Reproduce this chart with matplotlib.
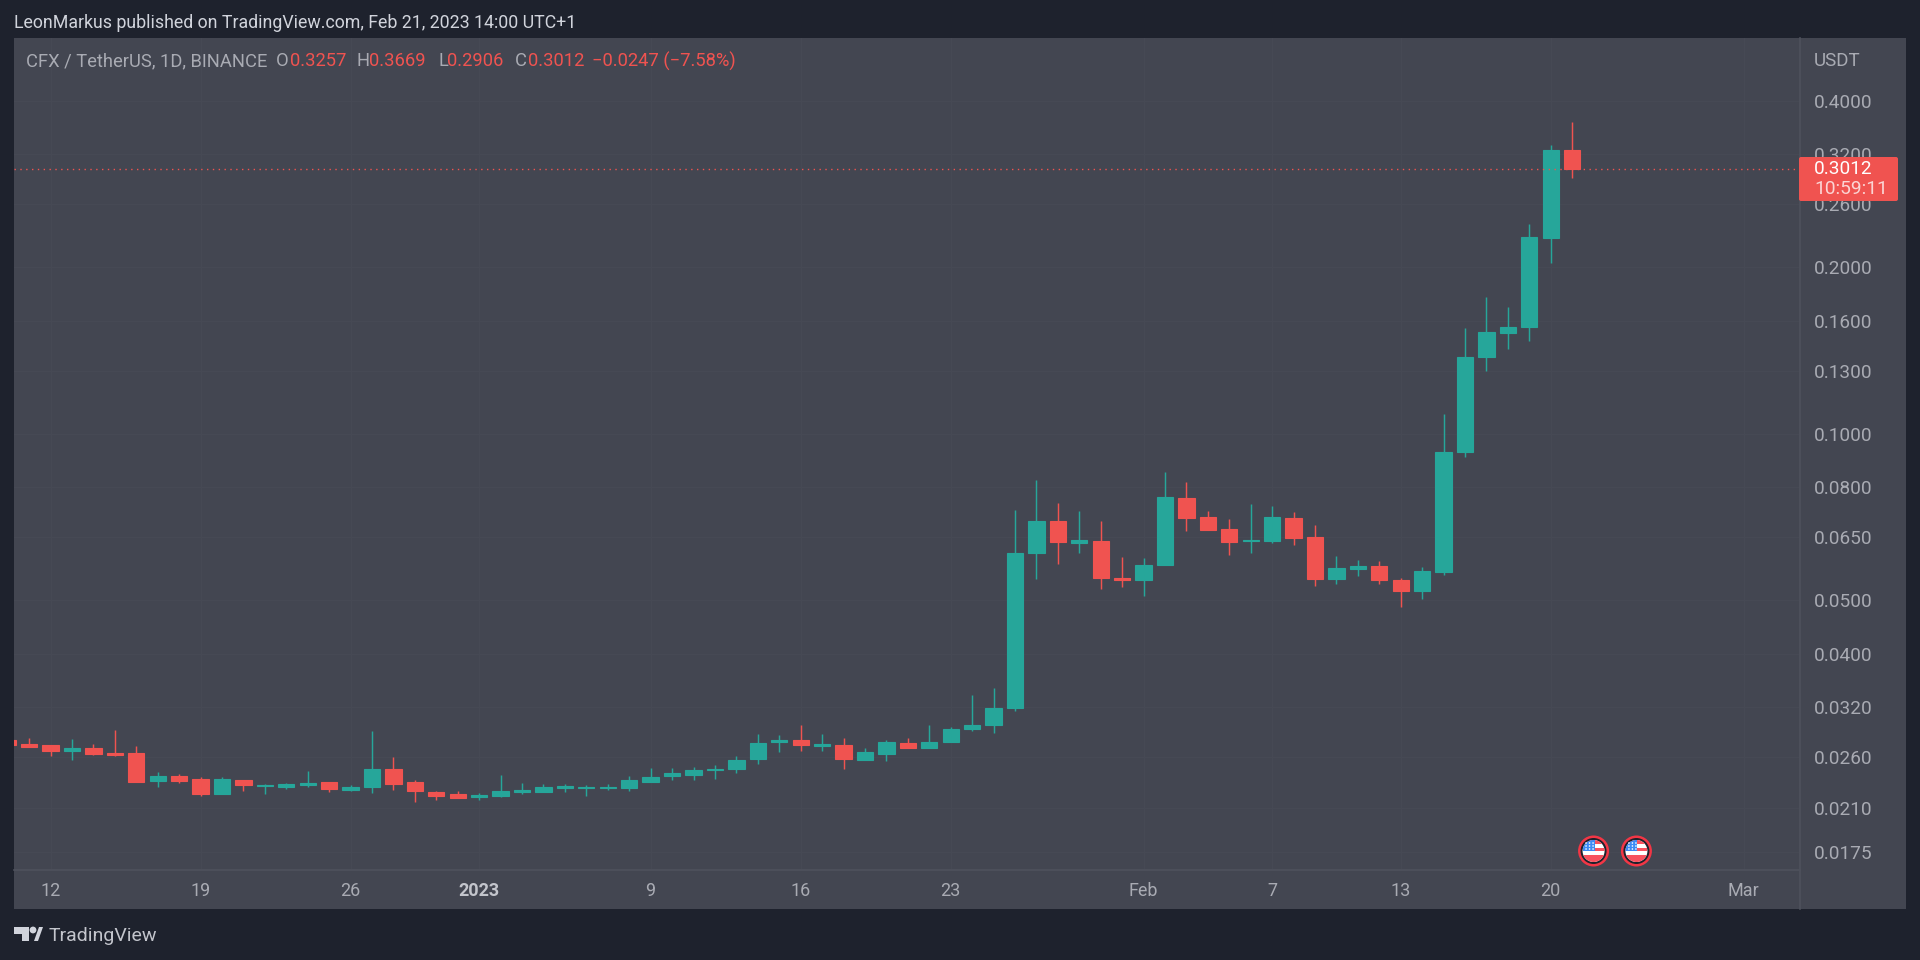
import numpy as np
import pandas as pd
import matplotlib
matplotlib.use("Agg")
import matplotlib.pyplot as plt
from matplotlib.patches import Circle, Polygon, Rectangle, FancyBboxPatch

# daily candles, Dec 10 2022 .. Feb 21 2023
START_DATE = "2022-12-10"
OPENS = [.02790, .02745, .02732, .02665, .02703, .02640, .02640, .02355, .02402, .02369, .02232, .02359,
         .02300, .02294, .02313, .02339, .02266, .02294, .02476, .02339, .02250, .02228, .02204, .02213,
         .02247, .02244, .02288, .02288, .02288, .02288, .02343, .02398, .02412, .02463, .02473, .02578,
         .02763, .02790, .02725, .02732, .02564, .02632, .02752, .02695, .02763, .02917, .02970, .03193,
         .06071, .06947, .06347, .06383, .05479, .05440, .05775, .07646, .07055, .06719, .06383, .06392,
         .07034, .06500, .05463, .05688, .05768, .05433, .05183, .05625, .09252, .13747, .15209, .15600,
         .22640, .3257]
HIGHS = [.02790, .02810, .02732, .02798, .02745, .02905, .02722, .02439, .02419, .02388, .02388, .02359,
         .02323, .02333, .02449, .02339, .02310, .02897, .02600, .02359, .02257, .02257, .02234, .02412,
         .02333, .02323, .02323, .02310, .02323, .02402, .02479, .02479, .02490, .02515, .02614, .02861,
         .02845, .02966, .02861, .02810, .02695, .02786, .02810, .02970, .02946, .03366, .03461, .07273,
         .08241, .07488, .07243, .06947, .05980, .05962, .08521, .08173, .07243, .07006, .07447, .07396,
         .07213, .06833, .06004, .05905, .05889, .05471, .05736, .10856, .15510, .17698, .16928, .23956,
         .33341, .3669]
LOWS = [.02737, .02710, .02614, .02567, .02621, .02614, .02343, .02297, .02336, .02210, .02232, .02257,
        .02228, .02278, .02297, .02250, .02260, .02238, .02269, .02158, .02176, .02191, .02176, .02197,
        .02228, .02244, .02250, .02210, .02269, .02257, .02343, .02362, .02362, .02369, .02432, .02528,
        .02654, .02669, .02669, .02476, .02564, .02560, .02695, .02695, .02763, .02897, .02877, .03153,
        .05463, .05808, .06071, .05241, .05278, .05090, .05775, .06663, .06682, .06030, .06071, .06347,
        .06294, .05306, .05336, .05517, .05336, .04862, .05027, .05550, .09088, .13000, .14209, .14731,
        .20333, .2906]
CLOSES = [.02737, .02710, .02669, .02703, .02632, .02621, .02343, .02402, .02355, .02225, .02369, .02313,
          .02316, .02320, .02333, .02272, .02297, .02476, .02326, .02254, .02213, .02191, .02216, .02254,
          .02263, .02291, .02300, .02297, .02297, .02359, .02388, .02432, .02463, .02476, .02567, .02760,
          .02790, .02729, .02740, .02578, .02654, .02767, .02695, .02767, .02917, .02970, .03184, .06089,
          .06947, .06357, .06409, .05486, .05440, .05783, .07667, .07034, .06682, .06357, .06409, .07055,
          .06481, .05463, .05711, .05768, .05440, .05183, .05633, .09265, .13763, .15253, .15618, .22662,
          .3257, .3012]

PRICE_TICKS = [0.4, 0.32, 0.26, 0.2, 0.16, 0.13, 0.1, 0.08, 0.065, 0.05, 0.04, 0.032, 0.026, 0.021, 0.0175]
DATE_TICKS = ["2022-12-12", "2022-12-19", "2022-12-26", "2023-01-01", "2023-01-09", "2023-01-16",
              "2023-01-23", "2023-02-01", "2023-02-07", "2023-02-13", "2023-02-20", "2023-03-01"]
DATE_LABELS = ["12", "19", "26", "2023", "9", "16", "23", "Feb", "7", "13", "20", "Mar"]
LAST_PRICE = 0.3012
EVENT_DATES = ["2023-02-22", "2023-02-24"]

BG = "#1E222D"
PANE = "#434651"
LINE = "#4E515C"
GRID = "#464954"
TXT = "#A9ABB3"
GREEN = "#26A69A"
RED = "#F05350"
FONT = "Roboto"

W, H = 1920, 960
L, R, T, B = 14, 1800, 38, 870  # plot area in pixels


def day_at(px):
    return (px - 50.6) / 21.43


def price_at(py):
    return 0.2 * np.exp((267.3 - py) / 240)


plt.rcParams["font.family"] = FONT
fig = plt.figure(figsize=(W / 100, H / 100), dpi=100, facecolor=BG)
fig.patches.append(Rectangle((L / W, 1 - 909 / H), (1906 - L) / W, (909 - T) / H, transform=fig.transFigure,
                             facecolor=PANE, edgecolor="none", zorder=-5))

ax = fig.add_axes([L / W, 1 - B / H, (R - L) / W, (B - T) / H], facecolor=PANE)
dates = pd.date_range(START_DATE, periods=len(OPENS))
origin = pd.Timestamp("2022-12-12")
xs = np.array([(d - origin).days for d in dates])
o, h, l, c = map(np.array, (OPENS, HIGHS, LOWS, CLOSES))
colors = np.where(c >= o, GREEN, RED)

ax.set_yscale("log")
ax.vlines(xs, l, h, colors=colors, lw=1.05, zorder=3)
ax.bar(xs, np.abs(c - o), bottom=np.minimum(o, c), width=0.76, color=colors, edgecolor=colors,
       linewidth=0.8, zorder=4)
ax.axhline(LAST_PRICE, color=RED, lw=1, ls=(0, (1, 3.2)), zorder=5)

ax.set_xlim(day_at(L), day_at(R))
ax.set_ylim(price_at(B), price_at(T))
ax.yaxis.tick_right()
ax.set_yticks(PRICE_TICKS)
ax.set_yticklabels([f"{p:.4f}" for p in PRICE_TICKS])
ax.minorticks_off()
ax.yaxis.set_minor_locator(matplotlib.ticker.NullLocator())
tick_x = [(pd.Timestamp(d) - origin).days for d in DATE_TICKS]
ax.set_xticks(tick_x)
ax.set_xticklabels(DATE_LABELS)
ax.tick_params(axis="y", length=0, pad=10.3, labelsize=13.7, labelcolor=TXT)
ax.tick_params(axis="x", length=0, pad=9, labelsize=13, labelcolor=TXT)
ax.get_xticklabels()[3].set_fontweight("bold")
ax.get_xticklabels()[3].set_color("#C3C5CC")
ax.grid(True, color=GRID, lw=1, zorder=0)
ax.set_axisbelow(True)
for side in ("top", "left"):
    ax.spines[side].set_visible(False)
ax.spines["right"].set_color(LINE)
ax.spines["bottom"].set_color(LINE)
ax.spines["right"].set_linewidth(1.2)
ax.spines["bottom"].set_linewidth(1.2)

# overlay in pixel coordinates for the chrome around the chart
ov = fig.add_axes([0, 0, 1, 1], zorder=10)
ov.set_xlim(0, W)
ov.set_ylim(H, 0)
ov.axis("off")

ov.plot([R, R], [B, 909], color=LINE, lw=1.2)
ov.text(14, 23, "LeonMarkus published on TradingView.com, Feb 21, 2023 14:00 UTC+1", color="#D1D4DC",
        fontsize=12.82, va="center")
ov.text(1814, 61, "USDT", color=TXT, fontsize=13.5, va="center")

legend = [(26.5, "CFX / TetherUS, 1D, BINANCE", TXT), (276, "O", TXT), (290, "0.3257", RED), (356, "H", TXT),
          (369, "0.3669", RED), (438, "L", TXT), (447, "0.2906", RED), (515, "C", TXT), (528, "0.3012", RED),
          (592.5, "\u22120.0247 (\u22127.58%)", RED)]
for x0, s, col in legend:
    ov.text(x0, 61, s, color=col, fontsize=13.2, va="center")

# last price tag
ov.add_patch(FancyBboxPatch((1799, 157), 99, 44, boxstyle="round,pad=0,rounding_size=2", facecolor=RED,
                            edgecolor="none"))
ov.text(1814, 169, f"{LAST_PRICE:.4f}", color="white", fontsize=13.7, va="center")
ov.text(1814, 189, "10:59:11", color="#FBD5D4", fontsize=13.8, va="center")

# earnings-style flag markers
for d in EVENT_DATES:
    cx = 50.6 + 21.43 * (pd.Timestamp(d) - origin).days
    cy = 851
    ov.add_patch(Circle((cx, cy), 15.5, facecolor="#F23645", edgecolor="none"))
    ov.add_patch(Circle((cx, cy), 13, facecolor="#1E222D", edgecolor="none"))
    disc = Circle((cx, cy), 11, facecolor="white", edgecolor="none")
    ov.add_patch(disc)
    for y0, hh, col in [(cy - 11, 4, "#F7525F"), (cy - 3, 3, "#F7525F"), (cy + 3.5, 8, "#F7525F")]:
        st = Rectangle((cx - 11, y0), 22, hh, facecolor=col, edgecolor="none")
        ov.add_patch(st)
        st.set_clip_path(disc)
    canton = Rectangle((cx - 11, cy - 11), 12, 11, facecolor="#3D8BF5", edgecolor="none")
    ov.add_patch(canton)
    canton.set_clip_path(disc)
    for sx in (-7.5, -4, -0.5):
        for sy in (-8, -5, -2):
            dot = Circle((cx + sx, cy + sy), 0.8, facecolor="white", edgecolor="none")
            ov.add_patch(dot)

# TradingView logo
ov.add_patch(Polygon([(14, 927), (29, 927), (29, 941), (22, 941), (22, 934), (14, 934)], facecolor="#D1D4DC",
                     edgecolor="none"))
ov.add_patch(Circle((33, 930), 3.4, facecolor="#D1D4DC", edgecolor="none"))
ov.add_patch(Polygon([(34, 941), (39, 927), (43, 927), (38, 941)], facecolor="#D1D4DC", edgecolor="none"))
ov.text(49, 936, "TradingView", color="#C3C5CC", fontsize=14, va="center")

fig.savefig("out.png", dpi=100, facecolor=BG)
